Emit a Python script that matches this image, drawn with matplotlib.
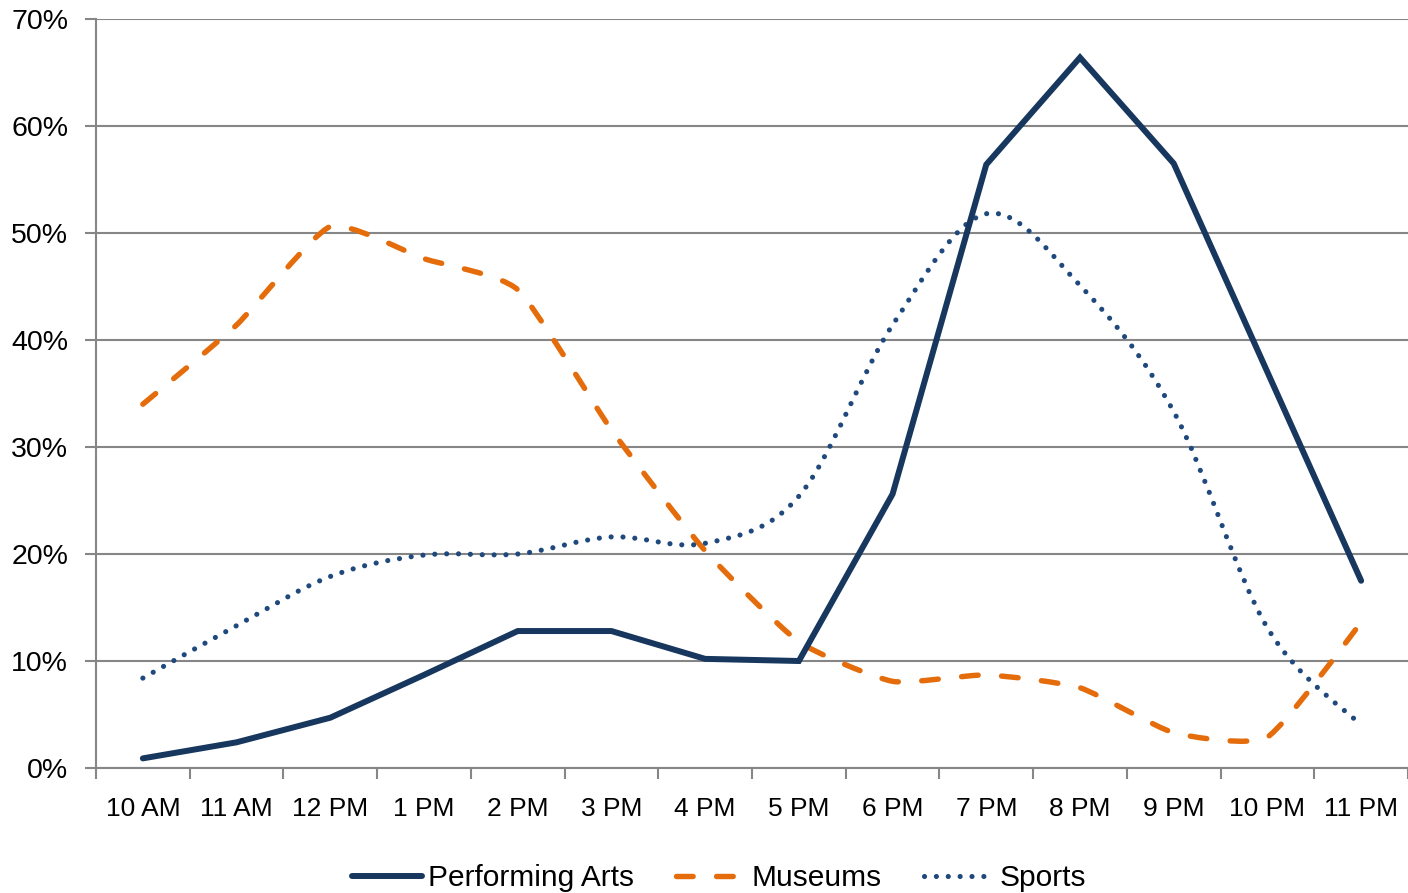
import matplotlib
matplotlib.use("Agg")
import matplotlib.pyplot as plt
from matplotlib.path import Path
from matplotlib.patches import PathPatch
from matplotlib.lines import Line2D
from matplotlib.ticker import FuncFormatter, FixedLocator

hours = ["10 AM", "11 AM", "12 PM", "1 PM", "2 PM", "3 PM", "4 PM",
         "5 PM", "6 PM", "7 PM", "8 PM", "9 PM", "10 PM", "11 PM"]
performing_arts = [0.9, 2.4, 4.7, 8.7, 12.8, 12.8, 10.2, 10.0, 25.6, 56.4, 66.4, 56.5, 37.0, 17.5]
museums = [34.0, 41.4, 50.6, 47.6, 44.7, 31.6, 20.3, 11.8, 8.1, 8.7, 7.5, 3.3, 2.9, 13.6]
sports = [8.4, 13.3, 17.9, 19.9, 20.0, 21.6, 21.0, 25.4, 41.4, 51.8, 45.1, 33.3, 13.1, 4.0]
y_ticks = [0, 10, 20, 30, 40, 50, 60, 70]

NAVY = "#17375E"
ORANGE = "#E46C0A"
BLUE = "#1F497D"
GRID = "#868686"

plt.rcParams["font.family"] = ["Liberation Sans", "DejaVu Sans"]

fig = plt.figure(figsize=(14.08, 8.93), dpi=100)
ax = fig.add_axes([96 / 1408, 125 / 893, 1312 / 1408, 749 / 893])


def smooth_path(xs, ys, k):
    """Cubic Bezier path through the points with tangent handles scaled by k."""
    n = len(xs)
    verts = [(xs[0], ys[0])]
    codes = [Path.MOVETO]
    for i in range(n - 1):
        a = i - 1 if i > 0 else i
        d = i + 2 if i + 2 < n else i + 1
        c1 = (xs[i] + (xs[i + 1] - xs[a]) * k, ys[i] + (ys[i + 1] - ys[a]) * k)
        c2 = (xs[i + 1] - (xs[d] - xs[i]) * k, ys[i + 1] - (ys[d] - ys[i]) * k)
        verts += [c1, c2, (xs[i + 1], ys[i + 1])]
        codes += [Path.CURVE4] * 3
    return Path(verts, codes)


x = list(range(len(hours)))

LW_PA, LW_MU, LW_SP = 4.3, 3.9, 3.7
dash_museum = (0, (3.07, 4.33))
dot_sports = (0, (0.01, 2.3))

ax.plot(x, performing_arts, color=NAVY, lw=LW_PA, solid_joinstyle="miter",
        solid_capstyle="round", zorder=5)

pm = PathPatch(smooth_path(x, museums, 0.09), fill=False, edgecolor=ORANGE,
               lw=LW_MU, linestyle=dash_museum, capstyle="round", zorder=4)
ax.add_patch(pm)

ps = PathPatch(smooth_path(x, sports, 1 / 6), fill=False, edgecolor=BLUE,
               lw=LW_SP, linestyle=dot_sports, capstyle="round", zorder=4)
ax.add_patch(ps)

ax.set_xlim(-0.5, len(hours) - 0.5)
ax.set_ylim(0, 70)

# y axis
ax.set_yticks(y_ticks)
ax.yaxis.set_major_formatter(FuncFormatter(lambda v, p: f"{v:.0f}%"))
ax.tick_params(axis="y", length=8, width=1.5, color=GRID, pad=12,
               labelsize=20.5, labelcolor="black")

# x axis: labels at category centres, tick marks on boundaries
ax.set_xticks(x)
ax.set_xticklabels(hours)
ax.xaxis.set_minor_locator(FixedLocator([i - 0.5 for i in range(len(hours) + 1)]))
ax.tick_params(axis="x", which="major", length=0, pad=21, labelsize=19,
               labelcolor="black")
ax.tick_params(axis="x", which="minor", length=8, width=1.5, color=GRID)

ax.grid(axis="y", color=GRID, lw=1.5)
ax.set_axisbelow(True)
for side in ("top", "right"):
    ax.spines[side].set_visible(False)
for side in ("left", "bottom"):
    ax.spines[side].set_color(GRID)
    ax.spines[side].set_linewidth(1.5)

handles = [
    Line2D([], [], color=NAVY, lw=LW_PA, solid_capstyle="round"),
    Line2D([], [], color=ORANGE, lw=LW_MU, linestyle=dash_museum, dash_capstyle="round"),
    Line2D([], [], color=BLUE, lw=LW_SP, linestyle=dot_sports, dash_capstyle="round"),
]
fig.legend(handles, ["Performing Arts", "Museums", "Sports"], loc="center",
           bbox_to_anchor=(719 / 1408, 15 / 893), ncol=3, frameon=False,
           prop={"size": 21.5},
           handlelength=2.34, handletextpad=0.2, columnspacing=1.4,
           borderpad=0, borderaxespad=0)

fig.savefig("out.png", dpi=100)
